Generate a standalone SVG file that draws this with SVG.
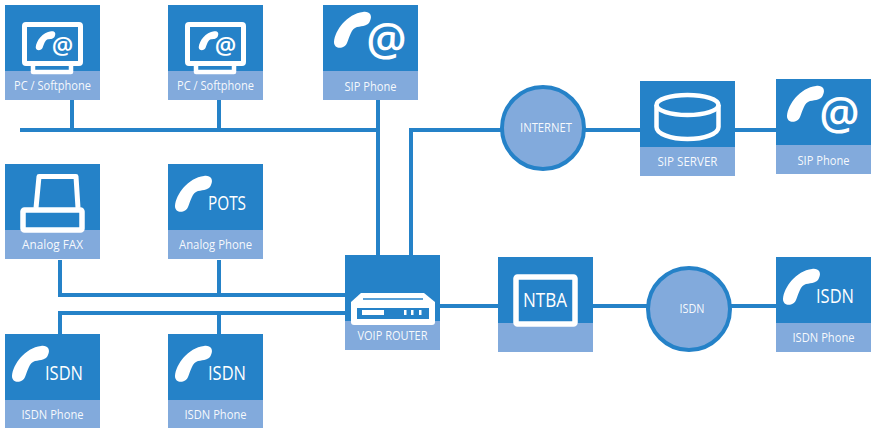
<svg xmlns="http://www.w3.org/2000/svg" width="871" height="428" viewBox="0 0 871 428">
<style>
.b{fill:#2582c8}
.l{fill:#82aadc}
.t{font-family:"Open Sans","Noto Sans",sans-serif;font-size:12px;fill:#fff;text-anchor:middle;fill-opacity:.95}
.g{font-family:"Open Sans","Noto Sans",sans-serif;fill:#fff;text-anchor:middle}
.a{font-family:"Open Sans","Noto Sans",sans-serif;fill:#fff;text-anchor:middle;font-weight:600}
.w{fill:#fff}
.o{fill:none;stroke:#fff;stroke-linejoin:round}
.c{fill:none;stroke:#2582c8;stroke-width:4}
.r{fill:#82aadc;stroke:#2582c8;stroke-width:4}
</style>
<defs>
<path id="hs" d="M7,42C8,30 20,14 36,12C42,11 46,15 43,21C41,26 36,26 30,27C24,29 23,36 20,43C18,49 7,50 7,42Z"/>
<g id="box"><rect class="l" y="66" width="95" height="29"/><rect class="b" width="95" height="66"/></g>
<g id="pc">
<use href="#box"/>
<path class="o" stroke-width="4.500" d="M28,60V67H66V60"/>
<rect class="o" x="19.500" y="19.500" width="56" height="39" rx="1.500" stroke-width="5" fill="#2582c8"/>
<use href="#hs" class="w" transform="translate(27,20) scale(.53)"/>
<text class="a" x="57.500" y="49" style="font-size:24px">@</text>
</g>
</defs>
<g id="connectors" class="c">
<path d="M20,130H378M72,100V130M219,100V130M378,100V255"/>
<path d="M411,255V130H501M585,130H640M735,130H776"/>
<path d="M60,260V295H345M219,260V295"/>
<path d="M60,334V313H345M219,334V313"/>
<path d="M440,306H498M593,306H648M730,306H776"/>
</g>
<g id="pc1" transform="translate(5,5)"><use href="#pc"/><text class="t" x="47.500" y="85" textLength="77" lengthAdjust="spacingAndGlyphs">PC / Softphone</text></g>
<g id="pc2" transform="translate(168,5)"><use href="#pc"/><text class="t" x="47.500" y="85" textLength="77" lengthAdjust="spacingAndGlyphs">PC / Softphone</text></g>
<g id="sip1" transform="translate(323,5)"><use href="#box"/><use href="#hs" class="w" transform="translate(4,-5)"/><text class="a" x="63.500" y="50" style="font-size:45px">@</text><text class="t" x="47.500" y="86" textLength="52" lengthAdjust="spacingAndGlyphs">SIP Phone</text></g>
<g id="fax" transform="translate(5,164)"><use href="#box"/>
<path class="o" stroke-width="5" d="M31,44L34,12.500H71L73,44"/>
<rect class="o" x="18" y="46" width="59" height="20" rx="1.500" stroke-width="5.500" fill="#2582c8"/>
<text class="t" x="47.500" y="85" textLength="61" lengthAdjust="spacingAndGlyphs">Analog FAX</text></g>
<g id="pots" transform="translate(168,164)"><use href="#box"/><use href="#hs" class="w"/><text class="g" x="59" y="46" style="font-size:19.500px" textLength="38" lengthAdjust="spacingAndGlyphs">POTS</text><text class="t" x="47.500" y="85" textLength="73" lengthAdjust="spacingAndGlyphs">Analog Phone</text></g>
<g id="isdn1" transform="translate(5,334)"><use href="#box"/><use href="#hs" class="w"/><text class="g" x="59" y="46" style="font-size:19.500px" textLength="38" lengthAdjust="spacingAndGlyphs">ISDN</text><text class="t" x="47.500" y="85" textLength="62" lengthAdjust="spacingAndGlyphs">ISDN Phone</text></g>
<g id="isdn2" transform="translate(168,334)"><use href="#box"/><use href="#hs" class="w"/><text class="g" x="59" y="46" style="font-size:19.500px" textLength="38" lengthAdjust="spacingAndGlyphs">ISDN</text><text class="t" x="47.500" y="85" textLength="62" lengthAdjust="spacingAndGlyphs">ISDN Phone</text></g>
<g id="router" transform="translate(345,255)"><use href="#box"/>
<path class="w" d="M16,38H79L90,47V67Q90,70 87,70H9Q6,70 6,67V47Z"/>
<path d="M18,44H78" stroke="#2582c8" stroke-width="1.500"/>
<rect class="b" x="12" y="53" width="72" height="11"/>
<rect class="w" x="17" y="55" width="22" height="5"/><rect class="w" x="59" y="55" width="2.500" height="5"/><rect class="w" x="66" y="55" width="2.500" height="5"/><rect class="w" x="74" y="55" width="2.500" height="5"/>
<text class="t" x="47.500" y="85" textLength="70" lengthAdjust="spacingAndGlyphs">VOIP ROUTER</text></g>
<g id="ntba" transform="translate(498,257)"><use href="#box"/><rect class="o" x="18" y="20" width="59" height="47" rx="1.500" stroke-width="5.500" fill="#2582c8"/><text class="g" x="47" y="50" style="font-size:20px" textLength="44" lengthAdjust="spacingAndGlyphs">NTBA</text></g>
<g id="internet"><circle class="r" cx="543" cy="128" r="41"/><text class="t" x="546" y="132" textLength="52" lengthAdjust="spacingAndGlyphs">INTERNET</text></g>
<g id="isdn-cloud"><circle class="r" cx="689" cy="309" r="41"/><text class="t" x="692" y="313" textLength="25" lengthAdjust="spacingAndGlyphs">ISDN</text></g>
<g id="server" transform="translate(640,81)"><use href="#box"/>
<path class="o" stroke-width="4.500" d="M16.500,24V46C16.500,53 31,58 47.500,58C64,58 78.500,53 78.500,46V24"/>
<ellipse class="o" cx="47.500" cy="24" rx="31" ry="10" stroke-width="4.500"/>
<text class="t" x="47.500" y="85" textLength="60" lengthAdjust="spacingAndGlyphs">SIP SERVER</text></g>
<g id="sip2" transform="translate(776,79)"><use href="#box"/><use href="#hs" class="w" transform="translate(4,-5)"/><text class="a" x="63.500" y="50" style="font-size:45px">@</text><text class="t" x="47.500" y="86" textLength="52" lengthAdjust="spacingAndGlyphs">SIP Phone</text></g>
<g id="isdn3" transform="translate(776,257)"><use href="#box"/><use href="#hs" class="w"/><text class="g" x="59" y="46" style="font-size:19.500px" textLength="38" lengthAdjust="spacingAndGlyphs">ISDN</text><text class="t" x="47.500" y="85" textLength="62" lengthAdjust="spacingAndGlyphs">ISDN Phone</text></g>
</svg>
